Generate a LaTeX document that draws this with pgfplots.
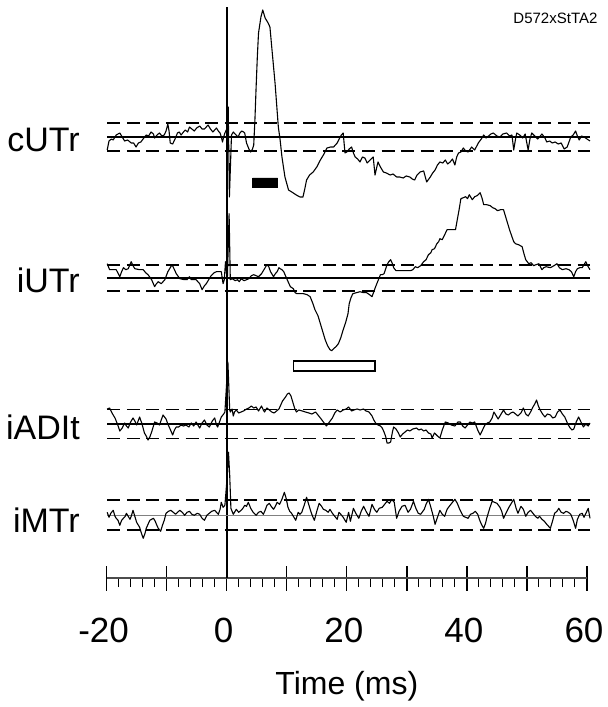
\documentclass[border=0pt]{standalone}
\usepackage{fontspec}
\setmainfont{Liberation Sans}
\usepackage{pgfplots}
\usepackage{pgfplotstable}
\pgfplotsset{compat=1.18}

% traces: time (ms) vs amplitude, in image px relative to each baseline
\pgfplotstableread{
t v
-19.9 -13
-19.6 -4
-19.2 -2
-18.9 -3
-18.4 2
-17.8 4
-17.4 0
-17.0 -4
-16.5 -3
-15.9 -6
-15.5 -6
-15.1 -10
-14.7 -6
-14.3 -5
-13.8 -1
-13.4 2
-13.0 1
-12.6 5
-12.2 3
-12.0 -1
-11.6 2
-11.2 4
-10.8 1
-10.4 2
-10.1 6
-9.8 13
-9.6 6
-9.4 -6
-9.0 -7
-8.6 -2
-8.2 4
-7.9 5
-7.6 2
-7.2 5
-6.9 7
-6.5 5
-6.2 10
-5.8 8
-5.4 6
-5.0 9
-4.5 11
-4.1 8
-3.7 8
-3.4 10
-3.1 12
-2.7 8
-2.3 5
-2.0 7
-1.7 9
-1.4 6
-1.1 4
-0.9 0
-0.7 -5
-0.5 0
-0.3 4
0.1 9
0.25 30
0.45 -60
0.8 2
1.1 5
1.4 3
1.9 0
2.2 4
2.5 6
2.8 5
3.0 4
3.3 -6
3.7 -12
4.0 -15
4.3 -12
4.5 -8
4.7 17
4.9 50
5.1 80
5.3 104
5.7 120
6.0 127
6.4 119
6.9 114
7.2 110
7.5 90
8.05 54
8.6 10
8.9 -3
9.2 -20
9.7 -40
10.3 -53
11.1 -56
11.6 -58
12.2 -60
12.7 -60
13.0 -52
13.3 -43
13.8 -38
14.4 -35
15.0 -30
15.6 -23
16.2 -17
16.7 -11
17.3 -10
17.8 -10
18.4 -6
18.9 0
19.1 2
19.4 4
19.7 -16
20.0 -15
20.4 -12
20.8 -10
21.1 -16
21.4 -20
21.8 -22
22.2 -25
22.6 -20
23.0 -21
23.4 -26
23.9 -23
24.4 -20
24.7 -38
25.0 -30
25.2 -25
25.6 -30
26.1 -35
26.6 -36
27.2 -38
27.7 -37
28.3 -40
28.8 -40
29.4 -41
29.9 -39
30.5 -40
30.9 -42
31.3 -43
31.7 -38
32.2 -35
32.8 -34
33.3 -45
33.9 -40
34.3 -36
34.7 -33
35.1 -28
35.5 -25
36.0 -26
36.4 -23
36.8 -27
37.2 -25
37.6 -22
38.0 -28
38.3 -20
38.6 -16
39.0 -15
39.4 -11
39.8 -14
40.2 -15
40.8 -10
41.3 -13
41.9 -6
42.4 -2
42.8 2
43.2 -1
43.6 1
44.0 3
44.4 4
45.0 1
45.5 0
46.0 3
46.6 4
47.1 1
47.5 2
47.8 -13
48.1 -2
48.3 4
48.8 2
49.3 -1
49.7 3
50.2 -13
50.5 -2
50.8 4
51.3 1
51.8 -2
52.5 3
53.0 -1
53.3 -5
53.8 -4
54.2 -6
54.7 -5
55.2 -7
55.7 -6
56.2 -12
56.7 -10
57.0 -5
57.3 0
57.7 2
58.1 6
58.4 1
58.7 -3
59.1 1
59.5 0
60.0 -2
60.5 -4
}\cUTr

\pgfplotstableread{
t v
-19.9 14
-19.5 8
-19.0 8
-18.4 8
-17.8 1
-17.5 6
-17.2 10
-16.8 8
-16.4 9
-15.9 16
-15.6 12
-15.3 9
-14.5 8
-13.9 8
-13.5 5
-13.1 3
-12.5 -2
-12.0 -9
-11.7 -6
-11.4 -4
-10.9 -6
-10.3 -2
-9.8 6
-9.1 13
-8.7 8
-8.4 4
-7.8 -1
-7.0 -2
-6.6 -2
-6.2 1
-5.9 -2
-5.5 -2
-5.1 -2
-4.5 -6
-4.1 -12
-3.7 -8
-3.4 -6
-3.0 -2
-2.6 2
-2.1 5
-1.7 6
-1.2 6
-0.9 6
-0.6 -6
-0.4 -2
-0.2 16
0.1 -4
0.4 64
0.6 -2
0.96 -1
1.4 -3
1.8 -2
2.1 -4
2.4 -1
2.9 -3
3.3 -2
3.7 -1
4.1 2
4.5 3
4.9 2
5.3 1
5.8 4
6.2 8
6.7 13
7.0 11
7.3 6
7.8 1
8.1 4
8.4 6
8.7 10
8.9 9
9.2 8
9.5 6
10.0 -1
10.6 -9
11.1 -11
11.4 -15
11.7 -16
12.2 -16
12.8 -16
13.4 -17
13.9 -19
14.3 -25
14.7 -32
15.2 -38
15.6 -46
16.0 -54
16.4 -62
16.8 -68
17.2 -72
17.5 -73
17.8 -71
18.2 -69
18.6 -66
19.0 -60
19.4 -52
19.8 -45
20.2 -36
20.4 -26
20.7 -20
21.0 -16
21.6 -15
22.2 -14
22.8 -15
23.3 -15
23.8 -17
24.2 -19
24.5 -14
24.8 -9
25.2 -3
25.6 3
25.9 3
26.2 4
26.7 13
27.0 16
27.3 18
27.6 14
27.8 10
28.2 7
28.6 7
29.2 7
29.8 7
30.6 7
31.0 8
31.4 11
31.8 10
32.3 12
32.8 16
33.2 18
33.6 23
34.0 25
34.2 28
34.6 29
35.0 34
35.3 36
35.5 39
35.9 38
36.3 43
36.7 48
37.2 48
37.6 48
38.1 48
38.4 58
38.7 68
39.0 79
39.4 80
39.8 81
40.1 79
40.4 83
40.7 80
40.9 78
41.3 81
41.7 82
42.2 85
42.5 80
42.8 73
43.3 73
43.9 72
44.3 70
44.7 69
45.1 67
45.6 68
46.1 68
46.4 62
46.7 56
47.1 48
47.5 41
47.8 36
48.1 34
48.6 33
49.2 31
49.5 24
49.8 18
50.3 14
50.7 15
51.1 12
51.5 13
52.0 14
52.5 8
52.8 10
53.2 11
53.9 10
54.5 12
55.0 14
55.4 10
55.9 8
56.5 9
57.0 8
57.4 6
57.8 1
58.1 6
58.4 9
58.8 10
59.2 10
59.8 16
60.1 12
60.5 8
}\iUTr

\pgfplotstableread{
t v
-19.9 15
-19.5 16
-19.0 10
-18.6 6
-18.2 0
-17.8 -7
-17.4 -4
-17.0 1
-16.7 -2
-16.4 -4
-16.0 2
-15.6 6
-15.3 3
-15.0 -1
-14.5 7
-14.1 0
-13.7 -9
-13.4 -12
-13.1 -16
-12.8 -13
-12.5 -8
-12.0 2
-11.6 1
-11.2 -1
-10.9 4
-10.6 9
-10.1 5
-9.8 0
-9.5 -4
-9.0 -11
-8.7 -6
-8.4 -3
-8.0 -3
-7.6 -1
-7.2 -2
-6.8 -1
-6.3 -3
-5.9 1
-5.5 -2
-5.1 2
-4.8 -1
-4.5 -4
-4.1 1
-3.7 4
-3.3 -1
-2.9 -3
-2.4 3
-2.0 6
-1.7 -1
-1.5 -3
-1.2 2
-0.9 7
-0.5 10
-0.3 12
0.2 62
0.5 14
0.6 12
0.9 15
1.1 8
1.3 12
1.6 14
2.0 11
2.4 12
2.8 13
3.3 15
3.7 16
4.1 18
4.5 16
4.9 17
5.3 13
5.8 18
6.1 14
6.3 12
6.7 16
7.1 14
7.5 12
7.9 11
8.3 13
8.7 15
9.3 23
9.8 27
10.1 30
10.4 31
10.7 28
10.9 24
11.3 16
11.6 12
12.0 14
12.6 13
13.1 12
13.7 11
14.2 10
14.8 12
15.2 9
15.6 6
16.1 2
16.6 -2
17.1 2
17.6 6
18.0 11
18.4 14
18.9 12
19.4 14
19.9 15
20.3 17
20.8 13
21.2 14
21.7 15
22.2 14
22.8 15
23.2 13
23.7 12
24.2 8
24.5 4
24.8 1
25.2 -1
25.6 -2
25.9 -4
26.2 -8
26.5 -13
26.7 -19
27.0 -19
27.3 -18
27.6 -8
27.8 -3
28.2 -5
28.6 -9
28.9 -13
29.3 -10
29.7 -8
30.1 -6
30.5 -7
31.0 -5
31.6 -4
32.0 -6
32.4 -5
32.8 -7
33.2 -6
33.6 -9
34.0 -10
34.2 -14
34.6 -9
35.1 -12
35.5 -14
35.9 -6
36.4 2
36.9 1
37.4 -1
38.0 -2
38.5 2
38.9 2
39.3 -2
39.7 -4
40.1 -1
40.5 2
40.9 1
41.3 2
41.8 -6
42.2 -11
42.6 -6
43.0 -1
43.4 1
43.8 2
44.2 6
44.5 12
44.9 8
45.2 5
45.6 9
46.1 14
46.5 10
46.9 9
47.3 11
47.7 12
48.1 10
48.5 8
49.0 11
49.4 16
49.8 10
50.2 8
50.6 12
51.0 17
51.3 20
51.6 24
51.9 18
52.2 14
52.6 10
53.0 7
53.4 10
53.9 9
54.3 6
54.7 7
55.1 12
55.5 14
55.9 10
56.3 7
56.8 0
57.2 -4
57.5 -6
57.8 -5
58.2 2
58.6 7
59.0 2
59.4 -3
59.8 0
60.2 -2
60.5 1
}\iADIt

\pgfplotstableread{
t v
-19.9 3
-19.6 -2
-19.3 2
-18.9 5
-18.6 -1
-18.4 -3
-18.1 -5
-17.8 -10
-17.5 -5
-17.2 -3
-16.9 -1
-16.7 2
-16.4 -1
-16.1 -4
-15.9 -1
-15.6 5
-15.3 -1
-15.0 -7
-14.7 -10
-14.5 -12
-14.2 -18
-13.9 -23
-13.6 -18
-13.4 -13
-13.1 -9
-12.8 -5
-12.5 -4
-12.2 -3
-11.9 -6
-11.7 -9
-11.4 -13
-11.0 -16
-10.7 -10
-10.4 -5
-10.1 2
-9.7 4
-9.3 5
-8.9 3
-8.5 1
-8.2 3
-7.8 5
-7.4 3
-7.0 0
-6.6 3
-6.2 4
-5.8 1
-5.4 0
-4.9 2
-4.5 1
-4.1 -3
-3.7 -5
-3.3 0
-2.9 2
-2.5 4
-2.0 5
-1.7 3
-1.4 1
-1.1 6
-0.9 13
-0.6 8
-0.3 10
0.1 40
0.3 63
0.5 40
0.7 7
1.1 1
1.4 4
1.6 6
2.0 3
2.4 5
2.7 7
3.0 10
3.3 9
3.6 13
4.0 7
4.4 3
4.9 0
5.3 3
5.7 4
6.1 1
6.4 5
6.7 10
7.1 12
7.4 9
7.8 6
8.1 9
8.4 13
8.8 11
9.2 16
9.6 23
9.9 17
10.2 8
10.5 4
10.8 2
11.2 -2
11.5 -5
11.9 3
12.2 1
12.5 3
12.9 10
13.3 18
13.6 12
14.0 4
14.3 -1
14.6 -5
15.0 4
15.4 12
15.8 9
16.1 6
16.5 5
16.9 3
17.2 6
17.6 2
18.0 -1
18.4 -4
18.7 3
19.0 1
19.4 -2
19.9 -7
20.3 3
20.6 -6
21.1 7
21.5 2
22.0 -3
22.4 4
22.8 9
23.2 4
23.7 -1
24.2 11
24.6 6
25.0 3
25.4 7
25.9 8
26.3 11
26.7 14
27.1 12
27.5 16
27.9 13
28.3 -3
28.7 4
29.2 9
29.7 10
30.2 3
30.6 6
31.1 14
31.5 7
31.9 2
32.3 1
32.9 6
33.2 11
33.6 16
34.0 8
34.4 -1
34.7 -9
35.1 -2
35.5 5
35.9 1
36.3 -1
36.7 6
37.2 10
37.6 13
38.0 16
38.4 12
38.8 6
39.4 -1
39.8 -2
40.2 -3
40.6 1
41.0 2
41.4 4
41.8 1
42.2 -6
42.5 -10
42.8 -13
43.1 -8
43.3 -3
43.8 7
44.2 14
44.6 13
45.0 12
45.5 8
45.8 4
46.1 -3
46.5 2
47.0 8
47.4 12
47.8 16
48.2 7
48.5 2
49.0 9
49.4 6
49.8 -1
50.2 3
50.6 5
51.0 2
51.4 -1
51.8 -3
52.1 -1
52.5 -4
52.9 -6
53.3 -9
53.6 -11
53.9 -13
54.3 -5
54.6 2
55.0 4
55.3 7
55.7 3
56.1 2
56.5 4
56.9 3
57.3 1
57.7 -5
58.1 -13
58.4 -4
58.8 1
59.2 2
59.5 -2
59.9 3
60.2 7
60.5 -3
}\iMTr

\pgfplotsset{
  trace/.style={hide axis, clip=false, x=3.0025pt, y=0.5pt,
    xmin=-20, xmax=60.5, anchor=origin},
  sig/.style={black, line width=0.55pt, line join=round},
  base/.style={black, line width=1.1pt},
  sd/.style={black, line width=1pt, dash pattern=on 6.5pt off 3.3pt},
}
\tikzset{lab/.style={anchor=east, inner sep=0pt, font=\fontsize{17}{17}\selectfont}}

\begin{document}
\begin{tikzpicture}
% time axis, stimulus line and labels
\begin{axis}[
  at={(0pt,0pt)}, anchor=origin,
  x=3.0025pt, y=0.5pt,
  xmin=-20, xmax=60, ymin=0, ymax=571,
  axis x line=bottom, axis y line=none,
  axis line style={-, black!70, line width=0.8pt},
  xtick={-20,-10,...,60},
  xticklabels={-20,,0,,20,,40,,60},
  minor x tick num=4,
  ytick=\empty,
  tick align=center,
  major tick length=12.5pt,
  minor tick length=4.5pt,
  every major tick/.style={black, line width=0.7pt},
  every minor tick/.style={black, line width=0.5pt, yshift=-2.25pt},
  /pgf/number format/assume math mode=true,
  xticklabel style={font=\fontsize{17.5}{17.5}\selectfont, yshift=-10pt, xshift=-1.5pt},
  xlabel={Time (ms)},
  xlabel style={at={(axis description cs:0.5,0)}, anchor=center,
    yshift=-54pt, font=\fontsize{16}{16}\selectfont},
  clip=false,
]
\addplot[black, line width=1pt] coordinates {(0,0) (0,571)};
\node[lab] at (axis cs:-24.4,438) {cUTr};
\node[lab] at (axis cs:-24.4,298) {iUTr};
\node[lab] at (axis cs:-24.4,151) {iADIt};
\node[lab] at (axis cs:-24.4,58) {iMTr};
\node[anchor=east, inner sep=0pt, font=\fontsize{7.5}{7.5}\selectfont] at (axis cs:61.8,560) {D572xStTA2};
\end{axis}

% cUTr
\begin{axis}[trace, at={(0pt,220.5pt)}]
\addplot[base] coordinates {(-19.9,0) (60.5,0)};
\addplot[sd] coordinates {(-19.9,14) (60.5,14)};
\addplot[sd] coordinates {(-19.9,-14) (60.5,-14)};
\addplot[sig] table[x=t, y=v] {\cUTr};
\addplot[black, fill=black] coordinates {(4.3,-41) (8.5,-41) (8.5,-50) (4.3,-50) (4.3,-41)};
\end{axis}

% iUTr
\begin{axis}[trace, at={(0pt,150.15pt)}]
\addplot[base] coordinates {(-19.9,0) (60.5,0)};
\addplot[sd] coordinates {(-19.9,13) (60.5,13)};
\addplot[sd] coordinates {(-19.9,-13) (60.5,-13)};
\addplot[sig] table[x=t, y=v] {\iUTr};
\addplot[black, line width=0.8pt, fill=white] coordinates {(11.1,-83) (24.7,-83) (24.7,-93) (11.1,-93) (11.1,-83)};
\end{axis}

% iADIt
\begin{axis}[trace, at={(0pt,77pt)}]
\addplot[black, line width=0.6pt] coordinates {(-19.9,0) (60.5,0)};
\addplot[sd, line width=0.6pt] coordinates {(-19.9,14.5) (60.5,14.5)};
\addplot[sd, line width=0.6pt] coordinates {(-19.9,-14.5) (60.5,-14.5)};
\addplot[sig] table[x=t, y=v] {\iADIt};
\end{axis}

% iMTr
\begin{axis}[trace, at={(0pt,31.35pt)}]
\addplot[black!50, line width=0.8pt] coordinates {(-19.9,0) (60.5,0)};
\addplot[sd] coordinates {(-19.9,15) (60.5,15)};
\addplot[sd] coordinates {(-19.9,-15) (60.5,-15)};
\addplot[sig] table[x=t, y=v] {\iMTr};
\end{axis}

\pgfresetboundingbox
\useasboundingbox (-113.35pt,-64.5pt) rectangle (190.65pt,289pt);
\end{tikzpicture}
\end{document}
